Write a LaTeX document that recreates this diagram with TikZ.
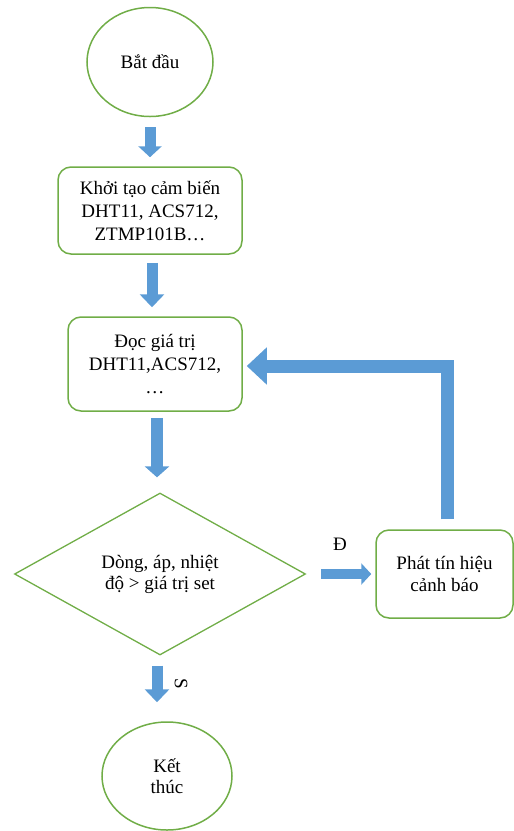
\documentclass[tikz,border=0pt]{standalone}
\usepackage{fontspec}
\setmainfont{Liberation Serif}
\usetikzlibrary{shapes.geometric,arrows.meta,calc}
\definecolor{flowgreen}{HTML}{70AD47}
\definecolor{flowblue}{HTML}{5B9BD5}
\tikzset{
  x=1pt, y=-1pt,
  txt/.style={font=\fontsize{19}{23}\selectfont, align=center, text=black},
  terminal/.style={txt, ellipse, draw=flowgreen, line width=1.5pt, inner sep=0pt},
  procbox/.style={txt, rectangle, rounded corners=13pt, draw=flowgreen, line width=1.5pt, inner sep=0pt},
  decision/.style={txt, diamond, shape aspect=1.8, draw=flowgreen, line width=1.3pt, inner sep=0pt},
  blockarrow/.style={draw=flowblue, line width=11pt},
  branchlabel/.style={font=\fontsize{19}{22}\selectfont, text=black}
}
\begin{document}
\begin{tikzpicture}
\useasboundingbox (0,0) rectangle (514,831);

% flowchart steps
\node[terminal, minimum width=126pt, minimum height=109pt] (start) at (150,62) {Bắt đầu};
\node[procbox, minimum width=184pt, minimum height=87pt] (init) at (150,210.5)
  {Khởi tạo cảm biến\\DHT11, ACS712,\\ZTMP101B…};
\node[procbox, minimum width=174pt, minimum height=94pt] (read) at (155,364)
  {Đọc giá trị\\DHT11,ACS712,\\…};
\node[decision, minimum width=291pt, minimum height=162pt,
      font=\fontsize{19}{21}\selectfont] (check) at (160,574)
  {Dòng, áp, nhiệt\\độ > giá trị set};
\node[procbox, minimum width=137pt, minimum height=88pt,
      font=\fontsize{19}{22}\selectfont] (alarm) at (444.5,574)
  {Phát tín hiệu\\cảnh báo};
\node[terminal, minimum width=130pt, minimum height=108pt,
      font=\fontsize{19}{21}\selectfont] (stop) at (167,776) {Kết\\thúc};

% block arrows between the steps
\draw[blockarrow, -{Triangle[length=11pt,width=23pt]}, shorten <=10pt, shorten >=9pt]
  (start.south) -- (start.south |- init.north);
\draw[blockarrow, -{Triangle[length=13pt,width=24pt]}, shorten <=8pt, shorten >=9pt]
  ([xshift=2pt]init.south) -- ([xshift=2pt]init.south |- read.north);
\draw[blockarrow, line width=12pt, -{Triangle[length=11pt,width=24pt]}, shorten <=6pt, shorten >=15pt]
  ([xshift=2pt]read.south) -- ([xshift=2pt]read.south |- check.north);
\draw[blockarrow, line width=10pt, -{Triangle[length=10pt,width=21pt]}, shorten <=15pt, shorten >=4pt]
  (check.east) -- (alarm.west);
\draw[blockarrow, -{Triangle[length=13pt,width=24pt]}, shorten <=10pt, shorten >=19pt]
  ([xshift=-3pt]check.south) -- ([xshift=-3pt]check.south |- stop.north);
\draw[blockarrow, line width=13pt, -{Triangle[length=20pt,width=36pt]}, shorten <=10pt, shorten >=4pt]
  ([xshift=2.5pt]alarm.north) |- ([yshift=-2pt]read.east);

% branch labels
\node[branchlabel] (yes) at (340,544) {Đ};
\node[branchlabel, rotate=-90] (no) at (181,684) {S};
\end{tikzpicture}
\end{document}
